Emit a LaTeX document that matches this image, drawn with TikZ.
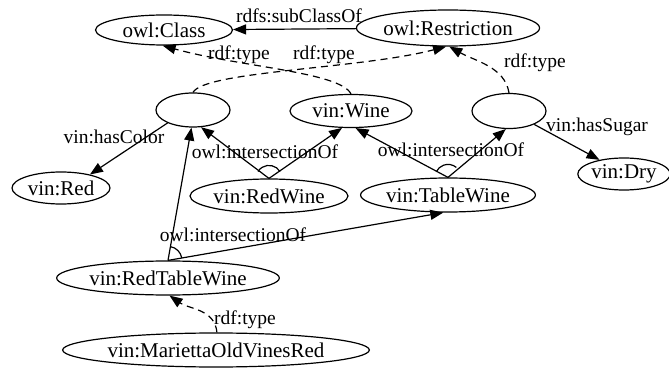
\documentclass[tikz,border=0pt]{standalone}
\usepackage{fontspec}
\setmainfont{Liberation Serif}
\usetikzlibrary{shapes.geometric,arrows.meta}

\tikzset{
  cls/.style={ellipse, draw, line width=1.2pt, inner sep=0pt,
    font=\fontsize{21}{24}\selectfont},
  lbl/.style={inner sep=0pt, font=\fontsize{19.5}{22}\selectfont},
  rel/.style={line width=1.2pt, -{Triangle[length=13pt,width=10pt]}},
  typ/.style={rel, dash pattern=on 7pt off 5pt},
  conj/.style={line width=1.2pt}
}

\begin{document}
\begin{tikzpicture}[x=1pt,y=1pt]
\useasboundingbox (0,0) rectangle (669,367);

% classes and individuals
\node[cls, minimum width=137pt, minimum height=30pt] (owlclass) at (164,337) {owl:Class};
\node[cls, minimum width=170pt, minimum height=36pt] (restr) at (448,339) {owl:Restriction};
\node[cls, minimum width=74pt, minimum height=34pt] (bl) at (193,257) {};
\node[cls, minimum width=122pt, minimum height=33pt] (wine) at (351,256) {vin:Wine};
\node[cls, minimum width=74pt, minimum height=35pt] (br) at (509,256) {};
\node[cls, minimum width=98pt, minimum height=32pt] (red) at (61,179) {vin:Red};
\node[cls, minimum width=88pt, minimum height=32pt] (dry) at (624,193) {vin:Dry};
\node[cls, minimum width=158pt, minimum height=34pt] (redwine) at (269,171) {vin:RedWine};
\node[cls, minimum width=170pt, minimum height=34pt] (tablewine) at (448,172) {vin:TableWine};
\node[cls, minimum width=190pt, minimum height=34pt] (rtw) at (168,89) {vin:RedTableWine};
\node[cls, minimum width=262pt, minimum height=34pt] (mar) at (216,17) {vin:MariettaOldVinesRed};

% subclass relation
\draw[rel] (restr) -- (owlclass);
\node[lbl] (lsub) at (299,351) {rdfs:subClassOf};

% rdf:type links
\draw[typ] (wine.north) .. controls (340,295) and (240,300) .. (owlclass.-95);
\draw[typ] (bl.north) .. controls (205,296) and (360,298) .. (restr.-96);
\draw[typ] (br.north) .. controls (505,300) and (475,306) .. (restr.-86);
\draw[typ] (mar.87) to[out=95,in=-35] (rtw.-85);
\node[lbl] (lt1) at (239,312) {rdf:type};
\node[lbl] (lt2) at (324,312) {rdf:type};
\node[lbl] (lt3) at (535,304) {rdf:type};
\node[lbl] (lt4) at (245,47) {rdf:type};

% intersections
\draw[rel] (redwine.north) -- (bl.-65);
\draw[rel] (redwine.north) -- (wine.-118);
\draw[conj] (redwine.north) ++(32:13pt) arc (32:148:13pt);
\node[lbl] (li1) at (265,215) {owl:intersectionOf};

\draw[rel] (tablewine.north) -- (wine.-75);
\draw[rel] (tablewine.north) -- (br.-100);
\draw[conj] (tablewine.north) ++(50:13pt) arc (50:154:13pt);
\node[lbl] (li2) at (451,217) {owl:intersectionOf};

\draw[rel] (rtw.north) -- (bl.-95);
\draw[rel] (rtw.north) -- (tablewine.-105);
\draw[conj] (rtw.north) ++(10:14pt) arc (10:80:14pt);
\node[lbl] (li3) at (233,132) {owl:intersectionOf};

% restriction properties
\draw[rel] (bl.-153) -- (red.25);
\node[lbl] (lcol) at (114,230) {vin:hasColor};
\draw[rel] (br.-28) -- (dry.150);
\node[lbl] (lsug) at (597,240) {vin:hasSugar};
\end{tikzpicture}
\end{document}
